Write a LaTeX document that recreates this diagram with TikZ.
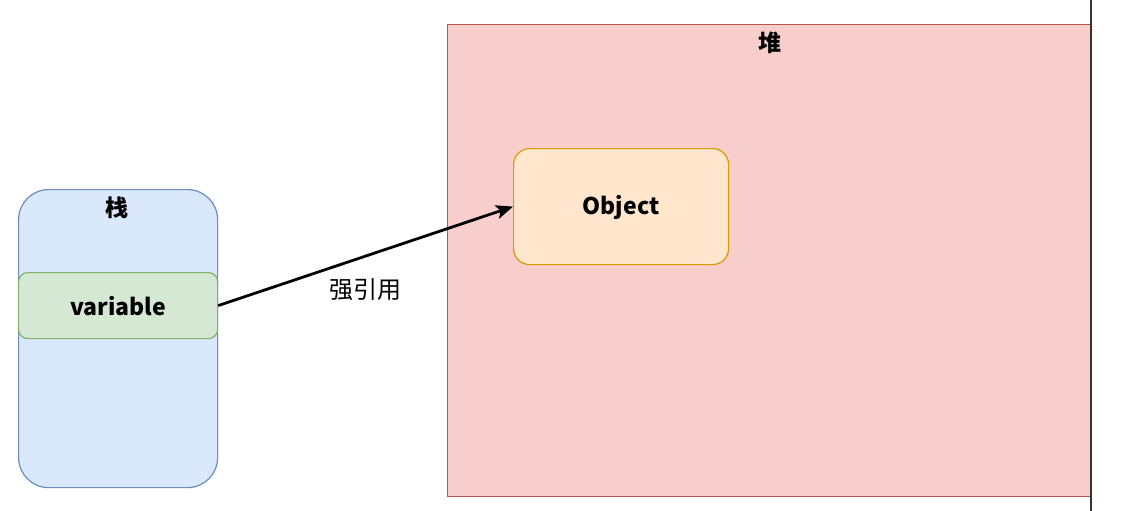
\documentclass[tikz,border=0pt]{standalone}
\usepackage{fontspec}
\setmainfont{Noto Sans CJK SC}
\usetikzlibrary{arrows.meta}
\definecolor{stackfill}{HTML}{DAE8FC}
\definecolor{stackline}{HTML}{6C8EBF}
\definecolor{varfill}{HTML}{D5E8D4}
\definecolor{varline}{HTML}{82B366}
\definecolor{heapfill}{HTML}{F8CECC}
\definecolor{heapline}{HTML}{B85450}
\definecolor{objfill}{HTML}{FFE6CC}
\definecolor{objline}{HTML}{D79B00}
\definecolor{edgeline}{HTML}{333333}
\tikzset{
  box/.style={draw, line width=1.2pt, inner sep=0pt, anchor=north west},
  title/.style={font=\bfseries\fontsize{23}{27}\selectfont, anchor=center},
  lbl/.style={font=\bfseries\fontsize{23}{27}\selectfont},
  conn/.style={line width=2.8pt, -{Stealth[length=17pt,width=14pt,inset=4pt]}}
}
\begin{document}
\begin{tikzpicture}[x=1pt,y=-1pt]
\useasboundingbox (0,0) rectangle (1138,511);
\fill[white] (0,0) rectangle (1138,511);
% heap
\node[box, fill=heapfill, draw=heapline, minimum width=643pt, minimum height=472pt] (heap) at (447,24) {};
\node[title] (heapt) at (770,43) {堆};
% right edge line
\coordinate (edgetop) at (1091,0);
\coordinate (edgebot) at (1091,511);
\draw[edgeline, line width=2.6pt] (edgetop) -- (edgebot);
% stack
\node[box, fill=stackfill, draw=stackline, rounded corners=30pt, minimum width=199pt, minimum height=298pt] (stack) at (18,189) {};
\node[title] (stackt) at (117,208) {栈};
% variable
\node[box, fill=varfill, draw=varline, rounded corners=9pt, minimum width=199pt, minimum height=66pt] (var) at (18,272) {};
\node[lbl] at ([yshift=-1pt]var.center) {variable};
% object
\node[box, fill=objfill, draw=objline, rounded corners=16pt, minimum width=215pt, minimum height=116pt] (obj) at (513,148) {};
\node[lbl] at ([yshift=-1pt]obj.center) {Object};
% connector
\draw[conn] (var.east) -- (obj.west);
\node[font=\fontsize{24}{28}\selectfont] (reflbl) at (365,290) {强引用};
\end{tikzpicture}
\end{document}
